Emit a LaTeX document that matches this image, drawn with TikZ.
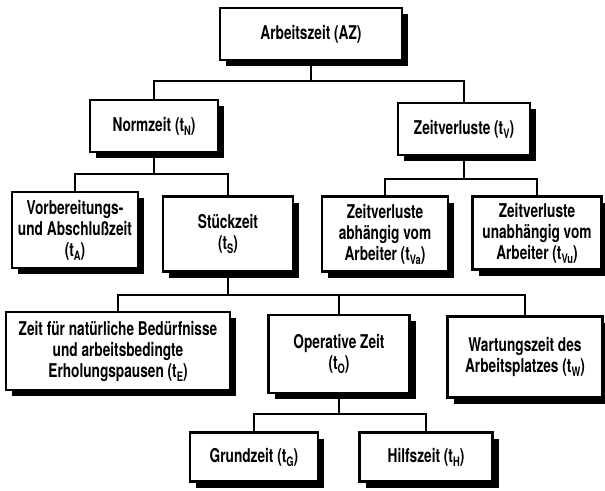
\documentclass[tikz,border=0pt]{standalone}
\usepackage{fontspec}
\setmainfont{TeX Gyre Heros}[FakeStretch=0.72]
\usetikzlibrary{positioning,shadows}
\newcommand{\idx}[1]{\raisebox{-4pt}{\fontsize{13}{13}\selectfont #1}}

\begin{document}
\begin{tikzpicture}[x=1pt,y=1pt,
  font=\fontsize{19}{21}\selectfont\bfseries,
  bx/.style 2 args={draw,line width=2.5pt,fill=white,align=center,inner sep=2pt,
    minimum width=#1,minimum height=#2,
    drop shadow={shadow xshift=6pt,shadow yshift=-6pt,fill=black,opacity=1}},
  cn/.style={line width=2pt}]
\useasboundingbox (0,0) rectangle (605,-490);
% Ebene 1 und 2
\node[bx={182pt}{52pt}] (az) at (311,-34) {Arbeitszeit (AZ)};
\node[bx={128pt}{52pt}] (tn) at (154,-126) {Normzeit (t\idx{N})};
\node[bx={132pt}{52pt}] (tv) at (464,-129) {Zeitverluste (t\idx{V})};
% Ebene 3
\node[bx={126pt}{76pt}] (ta) at (75,-230) {Vorbereitungs-\\und Abschlußzeit\\(t\idx{A})};
\node[bx={130pt}{75pt}] (ts) at (228,-234) {Stückzeit\\(t\idx{S})};
\node[bx={126pt}{75pt}] (tva) at (385,-234) {Zeitverluste\\abhängig vom\\Arbeiter (t\idx{Va})};
\node[bx={129pt}{73pt}] (tvu) at (537,-233) {Zeitverluste\\unabhängig vom\\Arbeiter (t\idx{Vu})};
% Ebene 4
\node[bx={224pt}{78pt}] (te) at (118,-351) {Zeit für natürliche Bedürfnisse\\und arbeitsbedingte\\Erholungspausen (t\idx{E})};
\node[bx={141pt}{78pt}] (to) at (339,-354) {Operative Zeit\\(t\idx{O})};
\node[bx={155pt}{81pt}] (tw) at (525,-357) {Wartungszeit des\\Arbeitsplatzes (t\idx{W})};
% Ebene 5
\node[bx={128pt}{49pt}] (tg) at (254,-457) {Grundzeit (t\idx{G})};
\node[bx={133pt}{49pt},right=39pt of tg] (th) {Hilfszeit (t\idx{H})};
% Verbindungen
\coordinate (j1) at ([yshift=-20pt]az.south);
\coordinate (j2) at ([yshift=-21pt]tn.south);
\coordinate (j3) at ([yshift=-23pt]tv.south);
\coordinate (j4) at ([yshift=-22pt]ts.south);
\coordinate (j5) at ([yshift=-20pt]to.south);
\foreach \p/\j in {az/j1,tn/j2,tv/j3,ts/j4,to/j5} \draw[cn] (\p.south)--(\j);
\foreach \j/\c in {j1/tn,j1/tv,j2/ta,j2/ts,j3/tva,j3/tvu,j4/te,j4/to,j4/tw,j5/tg,j5/th}
  \draw[cn] (\j) -| (\c.north);
\end{tikzpicture}
\end{document}
